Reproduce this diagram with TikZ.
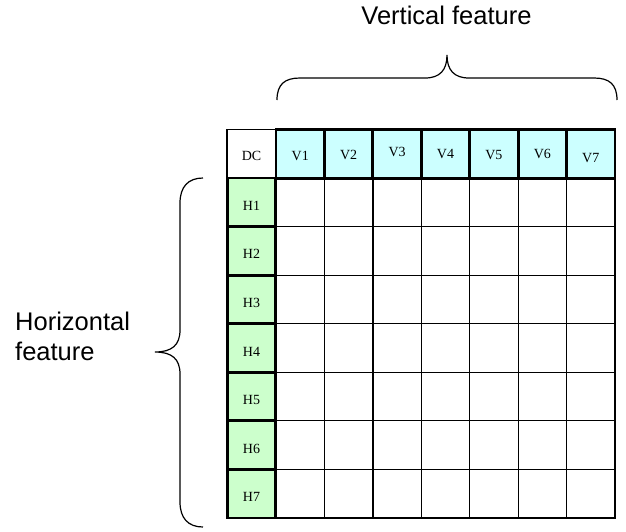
\documentclass[tikz,border=0pt]{standalone}
\usepackage{fontspec}
\setmainfont{Liberation Serif}
\setsansfont{Liberation Sans}
\definecolor{vfill}{HTML}{CCFFFF}
\definecolor{hfill}{HTML}{CCFFCC}
\begin{document}
\begin{tikzpicture}[x=1pt,y=-1pt,
  cell/.style={draw, line width=1.2pt, minimum width=48.5pt, minimum height=48.5pt, inner sep=0pt, outer sep=0pt},
  vcell/.style={cell, fill=vfill, line width=2.8pt},
  hcell/.style={cell, fill=hfill, line width=2.8pt},
  dccell/.style={cell, fill=white},
  lab/.style={font=\fontsize{14}{16}\selectfont\rmfamily, inner sep=0pt},
  bigtext/.style={font=\fontsize{25.5}{30}\selectfont\sffamily},
  brace/.style={draw, line width=1.2pt}]
\useasboundingbox (0,0) rectangle (626,531);
% grid cells
\foreach \i in {1,...,7}{
  \foreach \j in {1,...,7}{
    \node[cell] (c\i\j) at ({276+48.43*(\i-0.5)},{178+48.57*(\j-0.5)}) {};
  }
}
% DC
\node[dccell, minimum width=49pt, minimum height=49pt] (dc) at (251.5,154) {};
\node[lab] (dct) at (251.5,156) {DC};
% V header
\foreach \i/\dy in {1/2,2/1,3/-2.5,4/0,5/1,6/0,7/4}{
  \node[vcell, minimum height=49pt] (v\i) at ({276+48.43*(\i-0.5)},154) {};
  \node[lab] (vt\i) at ({276+48.43*(\i-0.5)},{154+\dy}) {V\i};
}
% H column
\foreach \j in {1,...,7}{
  \node[hcell] (h\j) at (251.5,{178+48.57*(\j-0.5)}) {};
  \node[lab] (ht\j) at (251.5,{178+48.57*(\j-0.5)+3.5}) {H\j};
}
% vertical brace
\coordinate (vb1) at (277,100);
\coordinate (vb2) at (300,78);
\coordinate (vb3) at (425,78);
\coordinate (vtip) at (447,55);
\coordinate (vb4) at (469,78);
\coordinate (vb5) at (594,78);
\coordinate (vb6) at (617,100);
\draw[brace] (vb1) .. controls (277,84) and (285,78) .. (vb2) -- (vb3)
  .. controls (440,78) and (447,70) .. (vtip)
  .. controls (447,70) and (454,78) .. (vb4) -- (vb5)
  .. controls (609,78) and (617,84) .. (vb6);
\node[bigtext] (vlab) at (446.5,15) {Vertical feature};
% horizontal brace
\coordinate (hb1) at (203,178);
\coordinate (hb2) at (180,203);
\coordinate (hb3) at (180,330);
\coordinate (htip) at (155,352);
\coordinate (hb4) at (180,374);
\coordinate (hb5) at (180,502);
\coordinate (hb6) at (203,527);
\draw[brace] (hb1) .. controls (188,178) and (180,187) .. (hb2) -- (hb3)
  .. controls (180,345) and (172,352) .. (htip)
  .. controls (172,352) and (180,359) .. (hb4) -- (hb5)
  .. controls (180,518) and (188,527) .. (hb6);
\node[bigtext, align=left, anchor=west, inner sep=0pt] (hlab) at (15,336) {Horizontal\\feature};
\end{tikzpicture}
\end{document}
